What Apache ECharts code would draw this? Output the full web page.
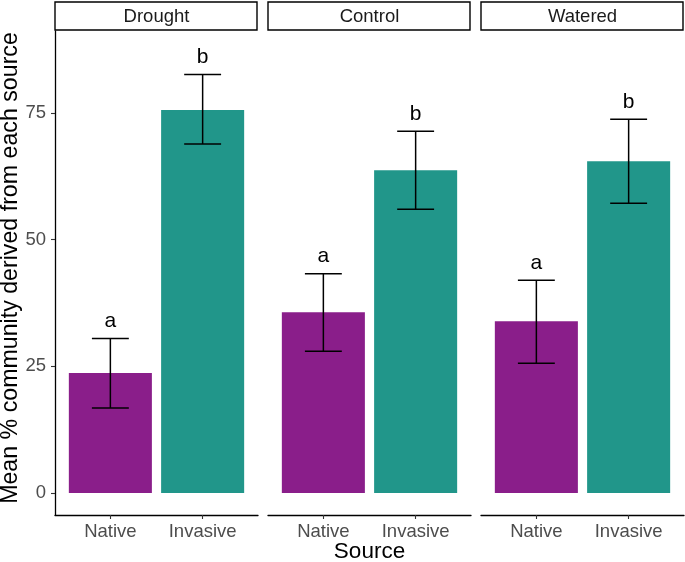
<!DOCTYPE html>
<html>
<head>
<meta charset="utf-8">
<script src="https://cdn.jsdelivr.net/npm/echarts@6/dist/echarts.min.js"></script>
<style>
html,body{margin:0;padding:0;background:#fff;}
#chart{width:685px;height:562px;}
</style>
</head>
<body>
<div id="chart"></div>
<script>
// ---- data ----
const panels = ['Drought', 'Control', 'Watered'];
const sources = ['Native', 'Invasive'];
const meanNative = [23.7, 35.7, 33.9];
const meanInvasive = [75.6, 63.7, 65.5];
const lowerNative = [16.8, 28.0, 25.6];
const upperNative = [30.5, 43.3, 42.0];
const lowerInvasive = [68.9, 56.0, 57.2];
const upperInvasive = [82.6, 71.4, 73.8];
const lettersNative = ['a', 'a', 'a'];
const lettersInvasive = ['b', 'b', 'b'];
const yTicks = [0, 25, 50, 75];
const yTitle = 'Mean % community derived from each source';
const xTitle = 'Source';

// ---- layout ----
const W = 685, H = 562;
const panelLeft = [55, 268, 481];
const panelRight = [258, 471, 684];
const panelTop = 31, panelBottom = 515;
const stripTop = 2;
const colors = ['#8A1E8A', '#21968A'];
const FONT = '"Liberation Sans", Arial, Helvetica, sans-serif';

const chart = echarts.init(document.getElementById('chart'), null, {renderer: 'canvas'});

const grids = [], xAxes = [], yAxes = [], series = [], graphics = [];

panels.forEach((p, i) => {
  grids.push({
    left: panelLeft[i], right: W - panelRight[i],
    top: panelTop, bottom: H - panelBottom,
    containLabel: false,
    outerBoundsMode: 'none'
  });
  xAxes.push({
    gridIndex: i, type: 'value', min: 0.4, max: 2.6,
    splitLine: {show: false},
    axisLine: {show: true, onZero: false, lineStyle: {color: '#000', width: 1.3}},
    axisTick: {show: true, length: 4, customValues: [1, 2], lineStyle: {color: '#333', width: 1.1}},
    axisLabel: {
      show: true, customValues: [1, 2], margin: 7,
      formatter: v => sources[Math.round(v) - 1],
      color: '#4D4D4D', fontSize: 18.5, fontFamily: FONT
    }
  });
  yAxes.push({
    gridIndex: i, type: 'value', min: -4.34, max: 91.2,
    splitLine: {show: false},
    axisLine: {show: i === 0, onZero: false, lineStyle: {color: '#000', width: 1.3}},
    axisTick: {show: i === 0, length: 4, customValues: yTicks, lineStyle: {color: '#333', width: 1.1}},
    axisLabel: {
      show: i === 0, customValues: yTicks, margin: 9,
      color: '#4D4D4D', fontSize: 18.5, fontFamily: FONT
    }
  });

  const rows = [
    [1, meanNative[i], lowerNative[i], upperNative[i], lettersNative[i], 0],
    [2, meanInvasive[i], lowerInvasive[i], upperInvasive[i], lettersInvasive[i], 1]
  ];

  // bars
  series.push({
    type: 'custom', xAxisIndex: i, yAxisIndex: i,
    data: rows.map(r => [r[0], r[1], r[5]]),
    renderItem: (params, api) => {
      const x = api.value(0), v = api.value(1), c = api.value(2);
      const p0 = api.coord([x - 0.45, v]);
      const p1 = api.coord([x + 0.45, 0]);
      return {
        type: 'rect',
        shape: {x: p0[0], y: p0[1], width: p1[0] - p0[0], height: p1[1] - p0[1]},
        style: {fill: colors[c]}
      };
    },
    silent: true, z: 2
  });

  // error bars + letters
  series.push({
    type: 'custom', xAxisIndex: i, yAxisIndex: i,
    data: rows.map(r => [r[0], r[2], r[3]]),
    encode: {x: 0, y: [1, 2]},
    renderItem: (params, api) => {
      const x = api.value(0), lo = api.value(1), hi = api.value(2);
      const lab = rows[params.dataIndex][4];
      const top = api.coord([x, hi]);
      const bot = api.coord([x, lo]);
      const cl = api.coord([x - 0.2, hi]);
      const cr = api.coord([x + 0.2, hi]);
      const ls = {stroke: '#000', lineWidth: 1.5};
      return {
        type: 'group',
        children: [
          {type: 'line', shape: {x1: top[0], y1: top[1], x2: bot[0], y2: bot[1]}, style: ls},
          {type: 'line', shape: {x1: cl[0], y1: top[1], x2: cr[0], y2: top[1]}, style: ls},
          {type: 'line', shape: {x1: cl[0], y1: bot[1], x2: cr[0], y2: bot[1]}, style: ls},
          {type: 'text', x: top[0], y: top[1] - 17,
           style: {text: lab, fill: '#000', fontSize: 21, fontFamily: FONT,
                   align: 'center', verticalAlign: 'middle'}}
        ]
      };
    },
    silent: true, z: 3
  });

  // strip
  graphics.push({
    type: 'rect',
    shape: {x: panelLeft[i], y: stripTop, width: panelRight[i] - panelLeft[i] - 1, height: panelTop - stripTop - 1},
    style: {fill: '#fff', stroke: '#000', lineWidth: 1.4}
  });
  graphics.push({
    type: 'text',
    x: (panelLeft[i] + panelRight[i]) / 2, y: (stripTop + panelTop) / 2,
    style: {text: p, fill: '#1A1A1A', fontSize: 18.5, fontFamily: FONT,
            align: 'center', verticalAlign: 'middle'}
  });
});

// axis titles
graphics.push({
  type: 'text',
  x: 11, y: 268, rotation: Math.PI / 2,
  style: {text: yTitle, fill: '#000', fontSize: 23.2, fontFamily: FONT,
          align: 'center', verticalAlign: 'middle'}
});
graphics.push({
  type: 'text',
  x: (panelLeft[1] + panelRight[1]) / 2, y: 552,
  style: {text: xTitle, fill: '#000', fontSize: 22.5, fontFamily: FONT,
          align: 'center', verticalAlign: 'middle'}
});

chart.setOption({
  animation: false,
  backgroundColor: '#fff',
  grid: grids,
  xAxis: xAxes,
  yAxis: yAxes,
  series: series,
  graphic: graphics
});
</script>
</body>
</html>
